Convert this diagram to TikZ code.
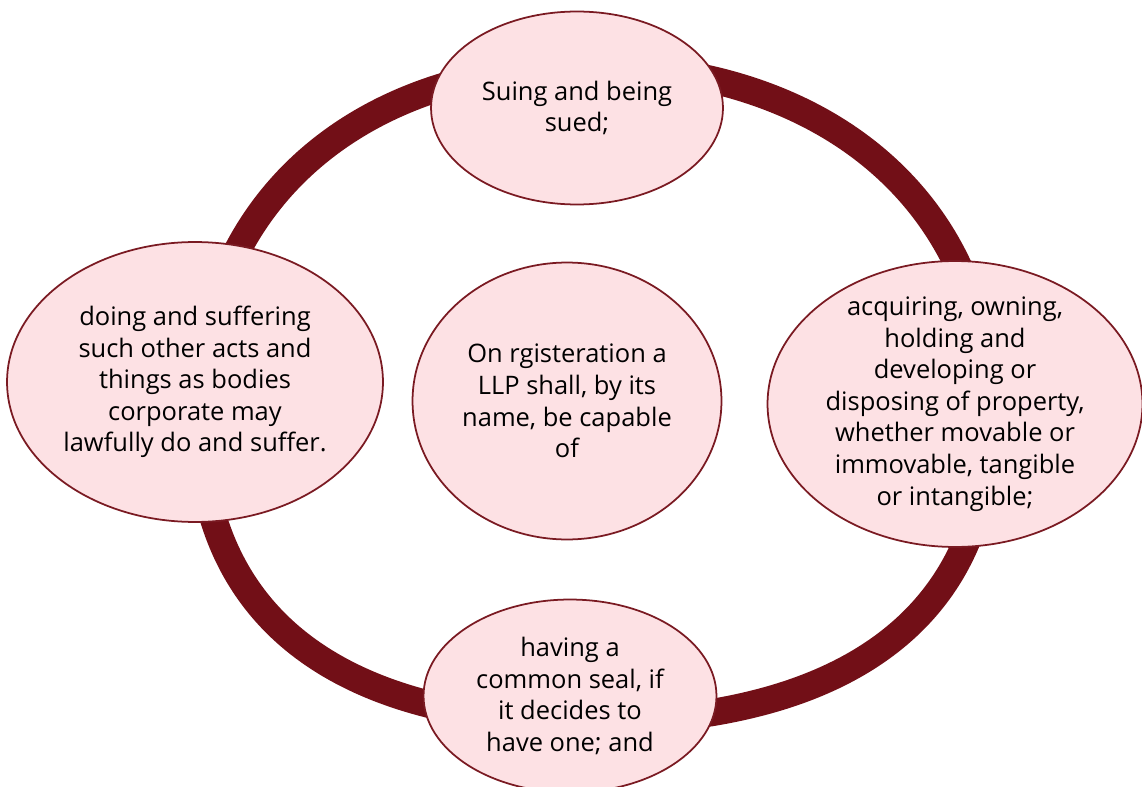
\documentclass[tikz,border=0pt]{standalone}
\usepackage{fontspec}
\setmainfont{Open Sans}
\usepackage{tikz}
\usetikzlibrary{shapes.geometric}
\definecolor{ringred}{HTML}{720F17}
\definecolor{bubblefill}{HTML}{FDE1E4}
\definecolor{bubbleline}{HTML}{7A1A22}

\begin{document}
\begin{tikzpicture}[x=0.02cm, y=-0.02cm,
	bubble/.style={ellipse, draw=bubbleline, line width=1pt, fill=bubblefill, inner sep=0pt},
	words/.style={align=center, inner sep=0pt, font=\fontsize{14.5}{18}\selectfont}]
	\useasboundingbox (0, 0) rectangle (1142, 787);

	\draw[ringred, line width=15.5pt] (588, 66) .. controls (829, 66) and (990, 206) .. (990, 415)
		.. controls (990, 630) and (829, 722) .. (588, 722)
		.. controls (355, 722) and (199, 630) .. (199, 415)
		.. controls (199, 206) and (355, 66) .. (588, 66);

	\node[bubble, minimum width=5.84cm, minimum height=3.86cm] (sue) at (577, 108) {};
	\node[bubble, minimum width=7.52cm, minimum height=5.6cm] (act) at (195, 382) {};
	\node[bubble, minimum width=6.18cm, minimum height=5.54cm] (llp) at (567, 401) {};
	\node[bubble, minimum width=7.5cm, minimum height=5.72cm] (own) at (955, 404) {};
	\node[bubble, minimum width=5.86cm, minimum height=3.86cm] (seal) at (570, 696) {};

	\node[words] (sue-t) at (sue) {Suing and being\\sued;};
	\node[words] (act-t) at (act) {doing and suffering\\such other acts and\\things as bodies\\corporate may\\lawfully do and suffer.};
	\node[words] (llp-t) at (llp) {On rgisteration a\\LLP shall, by its\\name, be capable\\of};
	\node[words] (own-t) at (own) {acquiring, owning,\\holding and\\developing or\\disposing of property,\\whether movable or\\immovable, tangible\\or intangible;};
	\node[words] (seal-t) at (seal) {having a\\common seal, if\\it decides to\\have one; and};
\end{tikzpicture}
\end{document}
